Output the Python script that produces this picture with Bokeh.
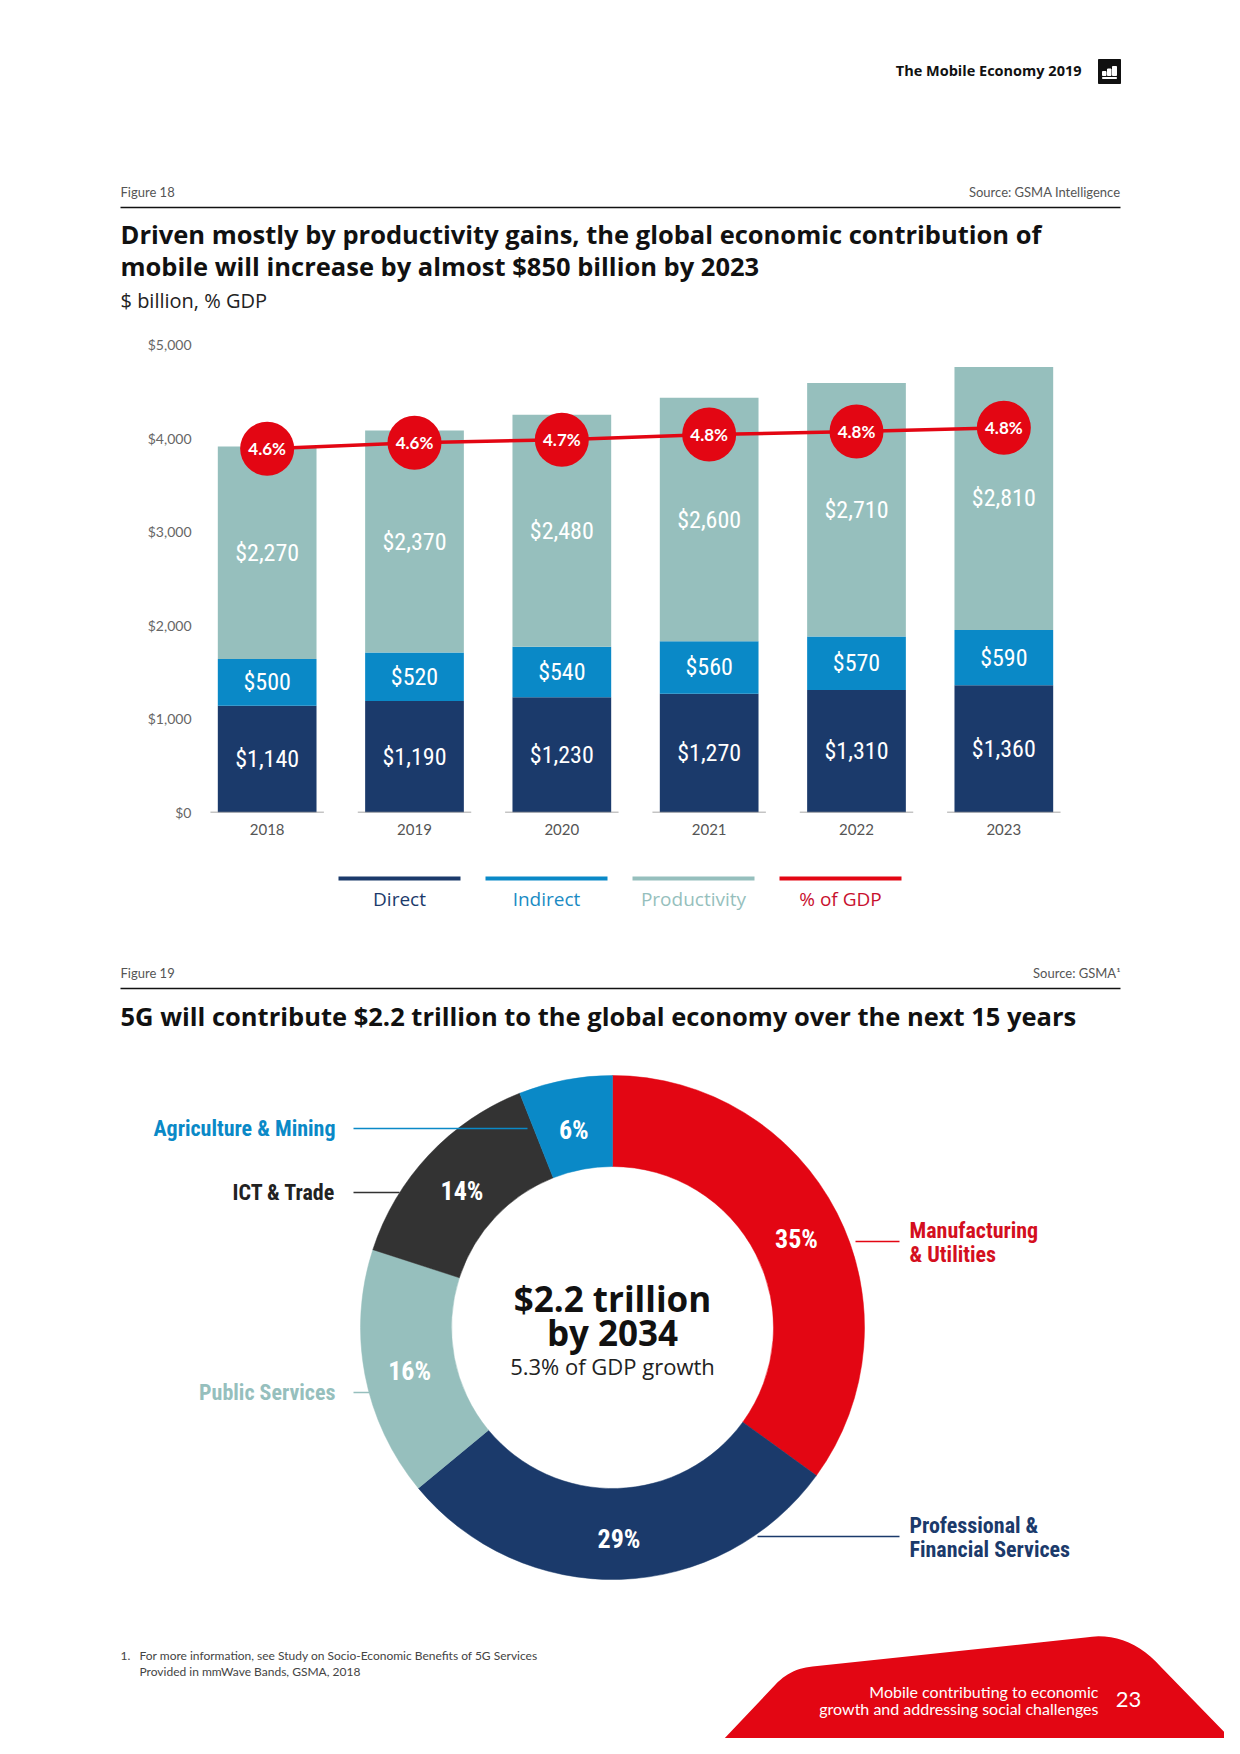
import numpy as np
from bokeh.plotting import figure
from bokeh.models import Range1d, FactorRange, ColumnDataSource, FixedTicker, NumeralTickFormatter
from bokeh.layouts import column
from bokeh.transform import dodge
from bokeh.core.properties import value
from bokeh.embed import file_html
from bokeh.resources import INLINE

# ---------------- data ----------------
years = ["2018", "2019", "2020", "2021", "2022", "2023"]
direct = [1140, 1190, 1230, 1270, 1310, 1360]
indirect = [500, 520, 540, 560, 570, 590]
productivity = [2270, 2370, 2480, 2600, 2710, 2810]
gdp_share = [4.56, 4.64, 4.68, 4.75, 4.79, 4.84]
gdp_labels = ["4.6%", "4.6%", "4.7%", "4.8%", "4.8%", "4.8%"]
y_ticks = [0, 1000, 2000, 3000, 4000, 5000]
legend_names = ["Direct", "Indirect", "Productivity", "% of GDP"]

sectors = ["Manufacturing & Utilities", "Professional & Financial Services",
           "Public Services", "ICT & Trade", "Agriculture & Mining"]
sector_share = [35, 29, 16, 14, 6]

# ---------------- styles ----------------
NAVY = "#1b3a6b"
BLUE = "#0a89c7"
TEAL = "#96bfbd"
RED = "#e30613"
DARK = "#333333"
FONT = "Lato"
WIDE = "Open Sans"
COND = "Roboto Condensed"

W = 1224


def canvas(top, bottom):
    p = figure(width=W, height=bottom - top, x_range=Range1d(0, W),
               y_range=Range1d(-bottom, -top), x_axis_type=None, y_axis_type=None,
               output_backend="svg", toolbar_location=None, min_border=0,
               frame_align=False)
    p.outline_line_color = None
    p.background_fill_color = "white"
    p.border_fill_color = "white"
    return p


def txt(p, x, y, s, size, color="#111111", font=FONT, style="normal",
        align="left", baseline="middle"):
    p.text(x=[x], y=[-y], text=[s], text_font=value(font),
           text_font_size=value(f"{size}px"), text_font_style=style,
           text_color=color, text_align=align, text_baseline=baseline)


def hline(p, x0, x1, y, color, width):
    p.segment(x0=[x0], x1=[x1], y0=[-y], y1=[-y], line_color=color, line_width=width)


# ---------------- header / figure 18 title ----------------
pA = canvas(0, 330)
txt(pA, 1081, 70, "The Mobile Economy 2019", 14.5, "#111111", WIDE, "bold", "right")
pA.quad(left=[1098], right=[1120], top=[-59], bottom=[-83], color="#111111")
pA.quad(left=[1102, 1107, 1112], right=[1105.5, 1110.5, 1116],
        bottom=[-75, -75, -75], top=[-71, -68.5, -66], color="white")
pA.quad(left=[1102], right=[1116], bottom=[-78], top=[-77], color="white")
txt(pA, 120, 191, "Figure 18", 13, "#555555")
txt(pA, 1120, 191, "Source: GSMA Intelligence", 13, "#555555", align="right")
hline(pA, 120, 1120, 207, "#111111", 1.5)
txt(pA, 120, 233, "Driven mostly by productivity gains, the global economic contribution of",
    25.5, "#111111", WIDE, "bold")
txt(pA, 120, 265, "mobile will increase by almost $850 billion by 2023",
    25.5, "#111111", WIDE, "bold")
txt(pA, 120, 300, "$ billion, % GDP", 20, "#222222", WIDE)

# ---------------- bar chart ----------------
d = np.array(direct, float)
i = np.array(indirect, float)
pr = np.array(productivity, float)
src = ColumnDataSource(dict(
    years=years, direct=direct, indirect=indirect, productivity=productivity,
    d_mid=d / 2, i_mid=d + i / 2, p_mid=d + i + pr / 2,
    d_lbl=[f"${v:,}" for v in direct], i_lbl=[f"${v:,}" for v in indirect],
    p_lbl=[f"${v:,}" for v in productivity],
    gdp=gdp_share, gdp_lbl=gdp_labels, zero=[0] * len(years)))

pB = figure(x_range=FactorRange(*years), y_range=Range1d(0, 5000), width=W, height=530,
            min_border_left=193, min_border_right=147, min_border_top=14,
            min_border_bottom=48, output_backend="svg", toolbar_location=None,
            frame_align=False)
pB.outline_line_color = None
pB.xgrid.visible = False
pB.ygrid.visible = False
pB.extra_y_ranges = {"pct": Range1d(-0.29, 5.95)}

pB.vbar_stack(["direct", "indirect", "productivity"], x="years", width=0.67,
              color=[NAVY, BLUE, TEAL], line_color=None, source=src)
pB.segment(x0=dodge("years", -0.385, range=pB.x_range),
           x1=dodge("years", 0.385, range=pB.x_range),
           y0="zero", y1="zero", line_color="#8a8a8a", line_width=1.3, source=src)

for ycol, lcol in [("d_mid", "d_lbl"), ("i_mid", "i_lbl"), ("p_mid", "p_lbl")]:
    pB.text(x="years", y=ycol, text=lcol, source=src, text_font=value(COND),
            text_font_size=value("24px"), text_color="white", text_align="center",
            text_baseline="middle")

pB.line(x="years", y="gdp", y_range_name="pct", line_color=RED, line_width=3.5, source=src)
pB.scatter(x="years", y="gdp", y_range_name="pct", size=54, fill_color=RED,
           line_color=None, source=src)
pB.text(x="years", y="gdp", y_range_name="pct", text="gdp_lbl", source=src,
        text_font=value(FONT), text_font_style="bold", text_font_size=value("17px"),
        text_color="white", text_align="center", text_baseline="middle")

pB.yaxis.ticker = FixedTicker(ticks=y_ticks)
pB.yaxis.formatter = NumeralTickFormatter(format="$0,0")
pB.axis.axis_line_color = None
pB.axis.major_tick_line_color = None
pB.axis.minor_tick_line_color = None
pB.axis.major_tick_out = 0
pB.axis.major_tick_in = 0
pB.axis.major_label_text_font = FONT
pB.yaxis.major_label_text_font_size = "14px"
pB.yaxis.major_label_text_color = "#666666"
pB.yaxis.major_label_standoff = 2
pB.xaxis.major_label_text_font_size = "15px"
pB.xaxis.major_label_text_color = "#555555"
pB.xaxis.major_label_standoff = 11

# ---------------- legend + figure 19 title ----------------
pC = canvas(860, 1060)
leg_colors = [NAVY, BLUE, TEAL, RED]
leg_text_colors = [NAVY, "#1a8bc4", TEAL, "#c8102e"]
for k, name in enumerate(legend_names):
    cx = 399 + 147 * k
    hline(pC, cx - 61, cx + 61, 878, leg_colors[k], 4)
    txt(pC, cx, 898, name, 19, leg_text_colors[k], WIDE, "normal", "center")
txt(pC, 120, 972, "Figure 19", 13, "#555555")
txt(pC, 1120, 972, "Source: GSMA\u00b9", 13, "#555555", align="right")
hline(pC, 120, 1120, 988, "#111111", 1.5)
txt(pC, 120, 1015, "5G will contribute $2.2 trillion to the global economy over the next 15 years",
    25.5, "#111111", WIDE, "bold")

# ---------------- donut ----------------
pD = canvas(1060, 1738)
CX, CY = 612, 1327
R_OUT, R_IN = 252, 161
R_MID = (R_OUT + R_IN) / 2
donut_colors = [RED, NAVY, TEAL, DARK, BLUE]
share = np.array(sector_share, float)
frac = share / share.sum()
c1 = np.cumsum(frac)
c0 = c1 - frac
start = np.pi / 2 - 2 * np.pi * c0
end = np.pi / 2 - 2 * np.pi * c1
mid = (start + end) / 2
dsrc = ColumnDataSource(dict(sector=sectors, share=sector_share, start=start, end=end,
                             color=donut_colors,
                             lx=CX + R_MID * np.cos(mid), ly=-CY + R_MID * np.sin(mid) - 5,
                             lbl=[f"{s}%" for s in sector_share]))
pD.annular_wedge(x=CX, y=-CY, inner_radius=R_IN, outer_radius=R_OUT, start_angle="start",
                 end_angle="end", direction="clock", fill_color="color", line_color="color",
                 line_width=0.5, source=dsrc)

# callouts
hline(pD, 353, 527, 1128, BLUE, 1.5)
hline(pD, 353, 399, 1192, DARK, 1.5)
hline(pD, 353, 369, 1392, TEAL, 1.5)
hline(pD, 855, 899, 1241, RED, 1.5)
hline(pD, 757, 899, 1536, NAVY, 1.5)
pD.text(x="lx", y="ly", text="lbl", source=dsrc, text_font=value(COND),
        text_font_style="bold", text_font_size=value("26px"), text_color="white",
        text_align="center", text_baseline="middle")
txt(pD, 335, 1128, sectors[4], 22, BLUE, COND, "bold", "right")
txt(pD, 335, 1192, sectors[3], 22, "#222222", COND, "bold", "right")
txt(pD, 335, 1392, sectors[2], 22, TEAL, COND, "bold", "right")
txt(pD, 909, 1230, "Manufacturing", 22, "#d40f1e", COND, "bold")
txt(pD, 909, 1254, "& Utilities", 22, "#d40f1e", COND, "bold")
txt(pD, 909, 1525, "Professional &", 22, NAVY, COND, "bold")
txt(pD, 909, 1549, "Financial Services", 22, NAVY, COND, "bold")

txt(pD, CX, 1298, "$2.2 trillion", 35, "#111111", WIDE, "bold", "center")
txt(pD, CX, 1332, "by 2034", 35, "#111111", WIDE, "bold", "center")
txt(pD, CX, 1365, "5.3% of GDP growth", 22, "#222222", WIDE, "normal", "center")

# footnote
txt(pD, 120, 1655, "1.", 12, "#444444")
txt(pD, 139, 1655, "For more information, see Study on Socio-Economic Benefits of 5G Services", 12, "#444444")
txt(pD, 139, 1671, "Provided in mmWave Bands, GSMA, 2018", 12, "#444444")


# red footer shape
def quad_curve(p0, c, p1, n=14):
    t = np.linspace(0, 1, n)
    xs = (1 - t) ** 2 * p0[0] + 2 * (1 - t) * t * c[0] + t ** 2 * p1[0]
    ys = (1 - t) ** 2 * p0[1] + 2 * (1 - t) * t * c[1] + t ** 2 * p1[1]
    return list(xs), list(ys)


sx, sy = [722], [1740]
for seg in [((775, 1684), (790, 1668), (812, 1666)),
            ((1085, 1637), (1128, 1630), (1160, 1666))]:
    sx.append(seg[0][0]); sy.append(seg[0][1])
    xs, ys = quad_curve(*seg)
    sx += xs; sy += ys
sx += [1232]; sy += [1740]
pD.patch(x=sx, y=[-v for v in sy], fill_color=RED, line_color=None)
txt(pD, 1098, 1691, "Mobile contributing to economic", 16, "white", FONT, "normal", "right")
txt(pD, 1098, 1708, "growth and addressing social challenges", 16, "white", FONT, "normal", "right")
txt(pD, 1128, 1699, "23", 22, "white", FONT, "normal", "center")

layout = column(pA, pB, pC, pD, spacing=0)
open("out.html", "w").write(file_html(layout, INLINE))
